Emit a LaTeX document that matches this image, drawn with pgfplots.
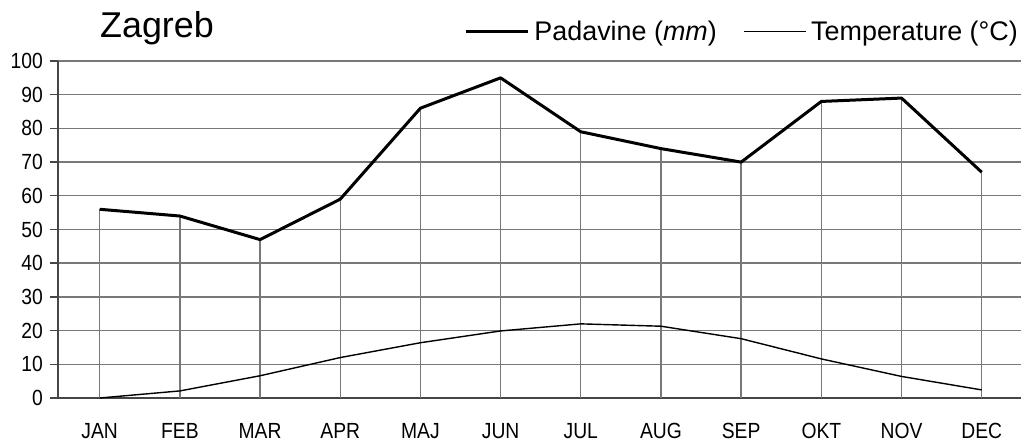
\documentclass[border=0pt]{standalone}
\usepackage{pgfplots}
\pgfplotsset{compat=1.18}
\usepackage{fontspec}
\setmainfont{Liberation Sans}
\newfontfamily\tickfont{Liberation Sans}[FakeStretch=0.88]
\definecolor{gridgray}{RGB}{120,120,120}
\definecolor{axisgray}{RGB}{70,70,70}
\begin{document}
\begin{tikzpicture}
\begin{axis}[
  scale only axis, width=963bp, height=337bp,
  xmin=-0.52, xmax=11.49, ymin=0, ymax=100,
  axis x line=bottom, axis y line=left,
  axis line style={-, axisgray, line width=1.6bp},
  xtick={0,...,11},
  xticklabels={JAN,FEB,MAR,APR,MAJ,JUN,JUL,AUG,SEP,OKT,NOV,DEC},
  x tick style={draw=none},
  ytick={0,10,...,100},
  ymajorgrids, grid style={gridgray, line width=1.4bp},
  tick align=outside, major tick length=8bp,
  y tick style={axisgray, line width=1.4bp},
  tick label style={font=\tickfont\fontsize{22}{26}\selectfont},
  /pgf/number format/assume math mode=true,
  xticklabel style={anchor=base, inner sep=0pt, yshift=-32bp},
  yticklabel style={anchor=east, inner sep=0pt, xshift=-7bp},
  clip=false,
  legend style={at={(1,1)}, anchor=south east, yshift=17bp, draw=none, fill=none,
    legend columns=-1, font=\fontsize{27}{32}\selectfont,
    nodes={inner sep=0pt},
    /tikz/every odd column/.append style={column sep=5bp},
    /tikz/every even column/.append style={column sep=26bp}},
  legend image code/.code={\draw[#1] (0bp,0bp) -- (62bp,0bp);},
]
\addplot[ycomb, gridgray, line width=1.4bp, forget plot] table {
x y
0 56
1 54
2 47
3 59
4 86
5 95
6 79
7 74
8 70
9 88
10 89
11 67
};
\addplot[black, line width=3bp, line join=round] table {
x y
0 56
1 54
2 47
3 59
4 86
5 95
6 79
7 74
8 70
9 88
10 89
11 67
};
\addlegendentry{Padavine (\textit{mm})}
\addplot[black, line width=1.4bp, line join=round] table {
x y
0 0
1 2.1
2 6.6
3 12.0
4 16.4
5 19.9
6 22.0
7 21.3
8 17.6
9 11.6
10 6.4
11 2.4
};
\addlegendentry{Temperature (°C)}
\node[anchor=base west, inner sep=0pt, font=\fontsize{36}{42}\selectfont] at ([xshift=42bp,yshift=23bp]rel axis cs:0,1) {Zagreb};
\path ([xshift=-58bp,yshift=-44bp]rel axis cs:0,0) rectangle ([xshift=7bp,yshift=61bp]rel axis cs:1,1);
\end{axis}
\end{tikzpicture}
\end{document}
